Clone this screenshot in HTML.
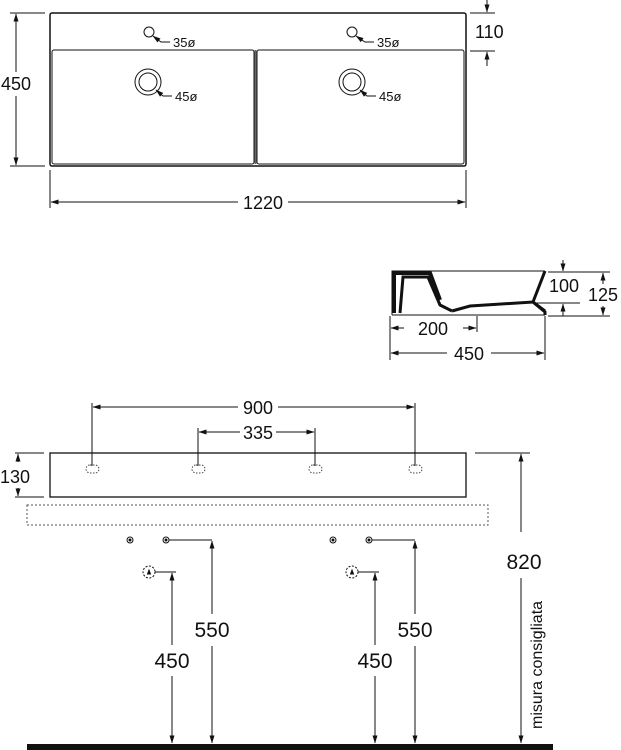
<!DOCTYPE html>
<html><head><meta charset="utf-8"><style>
html,body{margin:0;padding:0;background:#fff;}
svg{display:block;}
text{font-family:"Liberation Sans",sans-serif;fill:#111;}
</style></head><body>
<svg width="621" height="750" viewBox="0 0 621 750" xmlns="http://www.w3.org/2000/svg">
<defs>
<marker id="a" markerWidth="8" markerHeight="6" refX="7.5" refY="3" orient="auto-start-reverse" markerUnits="userSpaceOnUse"><path d="M0,0.5 L8,3 L0,5.5 Z" fill="#111"/></marker>
</defs>
<g stroke="#111" fill="none" stroke-width="1">
<rect x="50" y="13" width="416" height="153" rx="2" stroke-width="1.5"/>
<rect x="52" y="50" width="202" height="114" rx="2"/>
<rect x="257" y="50" width="207" height="114" rx="2"/>
<line x1="255.5" y1="50" x2="255.5" y2="164" stroke="#666" stroke-width="2"/>
<circle cx="149" cy="32" r="5"/>
<circle cx="352" cy="32" r="5"/>
<path d="M170,42 L161,42 L153,36" marker-end="url(#a)"/>
<path d="M374,42 L365,42 L356,36" marker-end="url(#a)"/>
<circle cx="148" cy="82" r="13"/><circle cx="148" cy="82" r="9"/>
<circle cx="352" cy="82" r="13"/><circle cx="352" cy="82" r="9"/>
<path d="M172,96 L163,96 L156,90" marker-end="url(#a)"/>
<path d="M376,96 L367,96 L360,90" marker-end="url(#a)"/>
<line x1="10" y1="13" x2="45" y2="13"/><line x1="10" y1="166" x2="45" y2="166"/>
<line x1="16" y1="72" x2="16" y2="14" marker-end="url(#a)"/>
<line x1="16" y1="96" x2="16" y2="165" marker-end="url(#a)"/>
<line x1="470" y1="13" x2="495" y2="13"/><line x1="470" y1="51" x2="495" y2="51"/>
<line x1="487" y1="0" x2="487" y2="12" marker-end="url(#a)"/>
<line x1="487" y1="66" x2="487" y2="52" marker-end="url(#a)"/>
<line x1="50" y1="170" x2="50" y2="208"/><line x1="466" y1="170" x2="466" y2="208"/>
<line x1="238" y1="202" x2="51" y2="202" marker-end="url(#a)"/>
<line x1="288" y1="202" x2="465" y2="202" marker-end="url(#a)"/>
<!-- side view -->
<path d="M392,315 L392,271 L545,271"/>
<path d="M394,313 L394,273 L430,273 L440,300" stroke-width="4"/>
<path d="M400,313 L403,277 L428,277 L440,305 L452,311" stroke-width="3"/>
<path d="M452,311 L470,306 L533,302 L545,311" stroke-width="3"/>
<path d="M545,271 L533,302 L545,312 L545,315" stroke-width="3"/>
<line x1="392" y1="315" x2="545" y2="315"/>
<line x1="536" y1="303" x2="580" y2="303"/>
<line x1="548" y1="316" x2="610" y2="316"/><line x1="548" y1="272" x2="610" y2="272"/>
<line x1="563" y1="260" x2="563" y2="271" marker-end="url(#a)"/>
<line x1="563" y1="316" x2="563" y2="304" marker-end="url(#a)"/>
<line x1="603" y1="284" x2="603" y2="273" marker-end="url(#a)"/>
<line x1="603" y1="306" x2="603" y2="315" marker-end="url(#a)"/>
<line x1="390" y1="316" x2="390" y2="360"/><line x1="477" y1="316" x2="477" y2="332"/><line x1="545" y1="316" x2="545" y2="360"/>
<line x1="404" y1="328" x2="391" y2="328" marker-end="url(#a)"/>
<line x1="463" y1="328" x2="476" y2="328" marker-end="url(#a)"/>
<line x1="447" y1="353" x2="391" y2="353" marker-end="url(#a)"/>
<line x1="491" y1="353" x2="544" y2="353" marker-end="url(#a)"/>
<!-- front view -->
<rect x="50" y="453" width="416" height="44" stroke-width="1.3"/>
<rect x="27" y="505" width="461" height="20" stroke-dasharray="2,2" stroke="#555"/>
<g stroke-dasharray="1.5,1.5" stroke="#444">
<rect x="86" y="465" width="13" height="8" rx="4"/>
<rect x="192" y="465" width="13" height="8" rx="4"/>
<rect x="309" y="465" width="13" height="8" rx="4"/>
<rect x="409" y="465" width="13" height="8" rx="4"/>
</g>
<line x1="92" y1="403" x2="92" y2="466"/><line x1="415" y1="403" x2="415" y2="466"/>
<line x1="198" y1="428" x2="198" y2="466"/><line x1="315" y1="428" x2="315" y2="466"/>
<line x1="238" y1="407" x2="93" y2="407" marker-end="url(#a)"/>
<line x1="278" y1="407" x2="414" y2="407" marker-end="url(#a)"/>
<line x1="240" y1="432" x2="199" y2="432" marker-end="url(#a)"/>
<line x1="276" y1="432" x2="314" y2="432" marker-end="url(#a)"/>
<line x1="15" y1="453" x2="44" y2="453"/><line x1="15" y1="497" x2="44" y2="497"/>
<line x1="18" y1="462" x2="18" y2="454" marker-end="url(#a)"/>
<line x1="18" y1="488" x2="18" y2="496" marker-end="url(#a)"/>
<line x1="475" y1="453" x2="530" y2="453"/>
<line x1="521" y1="532" x2="521" y2="454" marker-end="url(#a)"/>
<line x1="521" y1="578" x2="521" y2="743" marker-end="url(#a)"/>
<circle cx="130" cy="540" r="3"/><circle cx="166" cy="540" r="3"/>
<circle cx="130" cy="540" r="1" fill="#111"/><circle cx="166" cy="540" r="1" fill="#111"/>
<circle cx="149" cy="572" r="6" stroke-dasharray="2,1.5"/>
<path d="M147.5,574 L149,570 L150.5,574 Z" fill="#111"/>
<line x1="169" y1="540" x2="212" y2="540"/>
<line x1="212" y1="614" x2="212" y2="541" marker-end="url(#a)"/>
<line x1="212" y1="646" x2="212" y2="743" marker-end="url(#a)"/>
<line x1="155" y1="572" x2="176" y2="572"/>
<line x1="172" y1="645" x2="172" y2="573" marker-end="url(#a)"/>
<line x1="172" y1="676" x2="172" y2="743" marker-end="url(#a)"/>
<circle cx="333" cy="540" r="3"/><circle cx="369" cy="540" r="3"/>
<circle cx="333" cy="540" r="1" fill="#111"/><circle cx="369" cy="540" r="1" fill="#111"/>
<circle cx="352" cy="572" r="6" stroke-dasharray="2,1.5"/>
<path d="M350.5,574 L352,570 L353.5,574 Z" fill="#111"/>
<line x1="372" y1="540" x2="415" y2="540"/>
<line x1="415" y1="614" x2="415" y2="541" marker-end="url(#a)"/>
<line x1="415" y1="646" x2="415" y2="743" marker-end="url(#a)"/>
<line x1="358" y1="572" x2="379" y2="572"/>
<line x1="375" y1="645" x2="375" y2="573" marker-end="url(#a)"/>
<line x1="375" y1="676" x2="375" y2="743" marker-end="url(#a)"/>
</g>
<rect x="27" y="744" width="526" height="6" fill="#111"/>
<g font-size="13">
<text x="173" y="47">35ø</text><text x="377" y="47">35ø</text>
<text x="175" y="101">45ø</text><text x="379" y="101">45ø</text>
</g>
<g font-size="18">
<text x="1" y="90">450</text>
<text x="475" y="38">110</text>
<text x="263" y="209" text-anchor="middle">1220</text>
<text x="549" y="292">100</text>
<text x="588" y="301">125</text>
<text x="433" y="335" text-anchor="middle">200</text>
<text x="469" y="360" text-anchor="middle">450</text>
<text x="258" y="414" text-anchor="middle">900</text>
<text x="258" y="439" text-anchor="middle">335</text>
<text x="0" y="483">130</text>
</g>
<g font-size="21">
<text x="524" y="569" text-anchor="middle">820</text>
<text x="212" y="637" text-anchor="middle">550</text>
<text x="172" y="668" text-anchor="middle">450</text>
<text x="415" y="637" text-anchor="middle">550</text>
<text x="375" y="668" text-anchor="middle">450</text>
</g>
<text x="0" y="0" font-size="16" transform="translate(542,729) rotate(-90)">misura consigliata</text>
</svg>
</body></html>
